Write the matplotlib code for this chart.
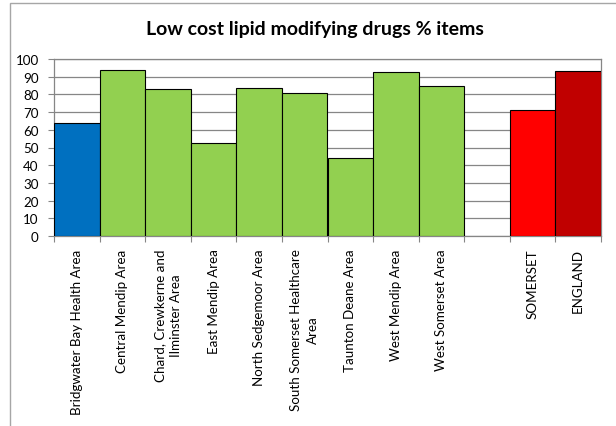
import matplotlib
matplotlib.use("Agg")
import matplotlib.pyplot as plt
from matplotlib.patches import Rectangle

plt.rcParams["font.family"] = ["Lato", "DejaVu Sans"]

labels = ["Bridgwater Bay Health Area", "Central Mendip Area",
          "Chard, Crewkerne and\nIlminster Area", "East Mendip Area",
          "North Sedgemoor Area", "South Somerset Healthcare\nArea",
          "Taunton Deane Area", "West Mendip Area", "West Somerset Area",
          "", "SOMERSET", "ENGLAND"]
values = [63.6, 94.0, 82.8, 52.5, 83.6, 81.0, 44.0, 92.8, 84.7, 0, 71.1, 93.0]
colors = ["#0070C0"] + ["#92D050"] * 8 + ["none", "#FF0000", "#C00000"]

fig = plt.figure(figsize=(6.16, 4.27), dpi=100)
ax = fig.add_axes([54 / 616, 1 - 237 / 427, 547 / 616, 177 / 427])

# chart frame (left/top visible)
fig.patches.append(Rectangle((10 / 616, -0.1), 1.1, 1 - 4 / 427 + 0.1,
                             transform=fig.transFigure, fill=False,
                             edgecolor="#a6a6a6", linewidth=1))

x = list(range(len(labels)))
for xi, v, c in zip(x, values, colors):
    if c == "none":
        continue
    ax.bar(xi, v, width=1.0, color=c, edgecolor="black", linewidth=0.8, zorder=3)

ax.set_xlim(-0.5, len(labels) - 0.5)
ax.set_ylim(0, 100)
ax.set_yticks(range(0, 101, 10))
ax.yaxis.grid(True, color="#868686", linewidth=0.9, zorder=0)

ax.set_xticks([i - 0.5 for i in range(len(labels) + 1)])
ax.set_xticklabels([])
ax.set_xticks(x, minor=True)
ax.set_xticklabels(labels, minor=True, rotation=90, va="top", ha="center",
                   multialignment="center", fontsize=9.6, linespacing=1.45)
ax.tick_params(axis="x", which="minor", length=0, pad=9)
ax.tick_params(axis="x", which="major", length=4, color="#868686", direction="out")
ax.tick_params(axis="y", length=4, color="#868686", labelsize=9.6, pad=7)

for s in ax.spines.values():
    s.set_color("#868686")
    s.set_linewidth(0.9)

fig.text(315 / 616, 1 - 30 / 427, "Low cost lipid modifying drugs % items",
         ha="center", va="center", fontsize=14, fontweight="bold")

fig.savefig("out.png", dpi=100)
